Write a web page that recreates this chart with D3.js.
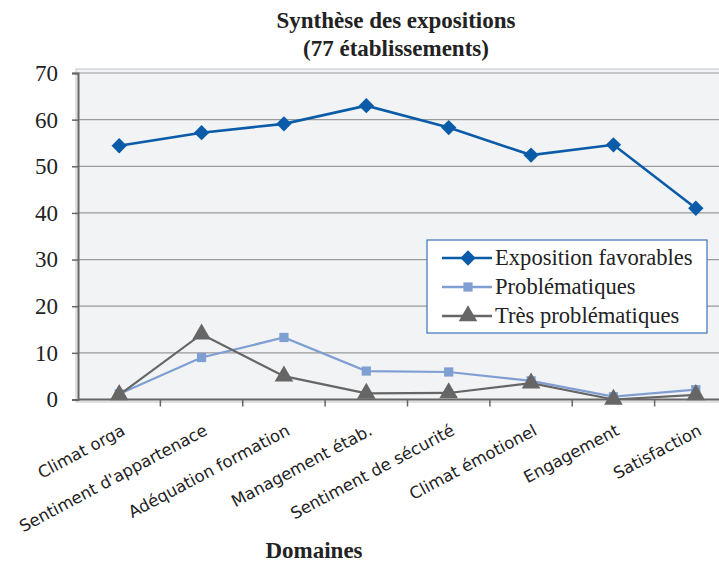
<!DOCTYPE html>
<html>
<head>
<meta charset="utf-8">
<script src="https://cdn.jsdelivr.net/npm/d3@7"></script>
<style>
  body { margin: 0; background: #fff; }
  svg { display: block; }
</style>
</head>
<body>
<svg id="chart" width="719" height="564"></svg>
<script>
// Domains (x categories)
const domaines = [
  "Climat orga",
  "Sentiment d'appartenace",
  "Adéquation formation",
  "Management étab.",
  "Sentiment de sécurité",
  "Climat émotionel",
  "Engagement",
  "Satisfaction"
];
// Series values
const favorables = [54.4, 57.2, 59.1, 63.0, 58.3, 52.4, 54.6, 41.0];
const problematiques = [1.2, 9.0, 13.3, 6.1, 5.9, 4.0, 0.6, 2.1];
const tresProblematiques = [1.0, 14.0, 5.0, 1.3, 1.4, 3.5, 0.0, 1.0];
// Y axis ticks
const yTicks = [0, 10, 20, 30, 40, 50, 60, 70];

const seriesNames = ["Exposition favorables", "Problématiques", "Très problématiques"];
const seriesColors = ["#0b5ca8", "#7f9fd3", "#666666"];
const seriesShapes = [d3.symbolDiamond2, d3.symbolSquare, d3.symbolTriangle];

const series = [favorables, problematiques, tresProblematiques].map((vals, i) => ({
  name: seriesNames[i], color: seriesColors[i], shape: seriesShapes[i],
  values: vals.map((v, j) => ({ cat: domaines[j], v }))
}));

const svg = d3.select("#chart");
const serif = "'Liberation Serif', 'DejaVu Serif', serif";
const sans = "'DejaVu Sans', 'Open Sans', sans-serif";

const x = d3.scaleBand().domain(domaines).range([78, 737]);
const y = d3.scaleLinear().domain([0, 70]).range([399.5, 73]);

// Plot background
svg.append("rect")
  .attr("x", 76).attr("y", 69).attr("width", 660).attr("height", 333)
  .attr("fill", "#f2f3f5").attr("stroke", "#c4c6c9").attr("stroke-width", 1);

// Horizontal gridlines
svg.append("g").selectAll("line").data(yTicks.filter(t => t > 0)).join("line")
  .attr("x1", 78).attr("x2", 719)
  .attr("y1", d => y(d)).attr("y2", d => y(d))
  .attr("stroke", "#9a9a9a").attr("stroke-width", 1.2);

// Y axis
const yAxis = svg.append("g").attr("transform", "translate(78,0)")
  .call(d3.axisLeft(y).tickValues(yTicks).tickSize(6).tickPadding(14).tickFormat(d3.format("d")));
yAxis.select(".domain").attr("stroke", "#666").attr("stroke-width", 2);
yAxis.selectAll(".tick line").attr("stroke", "#666").attr("stroke-width", 1.5);
yAxis.selectAll("text").attr("font-family", serif).attr("font-size", 23).attr("fill", "#222");

// X axis with ticks between categories
const xAxis = svg.append("g").attr("transform", `translate(0,${y(0)})`);
xAxis.append("line").attr("x1", 78).attr("x2", 719).attr("y1", 0).attr("y2", 0)
  .attr("stroke", "#666").attr("stroke-width", 2.2);
xAxis.selectAll("line.tk").data(domaines.slice(1)).join("line").attr("class", "tk")
  .attr("x1", d => x(d)).attr("x2", d => x(d)).attr("y1", 0).attr("y2", 7)
  .attr("stroke", "#666").attr("stroke-width", 1.5);

// Rotated category labels
svg.append("g").selectAll("text").data(domaines).join("text")
  .attr("transform", d => `translate(${x(d) + x.bandwidth() / 2 + 7},434) rotate(-28)`)
  .attr("text-anchor", "end")
  .attr("font-family", sans).attr("font-size", 16.5).attr("fill", "#222")
  .text(d => d);

// Lines and markers
const line = d3.line().x(d => x(d.cat) + x.bandwidth() / 2).y(d => y(d.v));
const sizes = [150, 85, 150];
series.forEach((s, i) => {
  svg.append("path").datum(s.values)
    .attr("d", line).attr("fill", "none")
    .attr("stroke", s.color).attr("stroke-width", i === 0 ? 2.6 : 2.2);
  svg.append("g").selectAll("path").data(s.values).join("path")
    .attr("transform", d => `translate(${x(d.cat) + x.bandwidth() / 2},${y(d.v)})`)
    .attr("d", d3.symbol().type(s.shape).size(sizes[i]))
    .attr("fill", s.color);
});

// Legend
const lg = svg.append("g").attr("transform", "translate(427,240)");
lg.append("rect").attr("width", 280).attr("height", 93)
  .attr("fill", "#fff").attr("stroke", "#3a72b8").attr("stroke-width", 1.2);
series.forEach((s, i) => {
  const row = lg.append("g").attr("transform", `translate(0,${18 + i * 29})`);
  row.append("line").attr("x1", 15).attr("x2", 65).attr("y1", 0).attr("y2", 0)
    .attr("stroke", s.color).attr("stroke-width", 2.4);
  row.append("path").attr("transform", "translate(41,0)")
    .attr("d", d3.symbol().type(s.shape).size(sizes[i])).attr("fill", s.color);
  row.append("text").attr("x", 68).attr("y", 7)
    .attr("font-family", serif).attr("font-size", 22.6).attr("fill", "#222")
    .text(s.name);
});

// Titles
svg.append("text").attr("x", 396).attr("y", 28).attr("text-anchor", "middle")
  .attr("font-family", serif).attr("font-weight", "bold").attr("font-size", 23).attr("fill", "#222")
  .text("Synthèse des expositions");
svg.append("text").attr("x", 396).attr("y", 56).attr("text-anchor", "middle")
  .attr("font-family", serif).attr("font-weight", "bold").attr("font-size", 23).attr("fill", "#222")
  .text("(77 établissements)");
svg.append("text").attr("x", 314).attr("y", 558).attr("text-anchor", "middle")
  .attr("font-family", serif).attr("font-weight", "bold").attr("font-size", 23).attr("fill", "#222")
  .text("Domaines");
</script>
</body>
</html>
